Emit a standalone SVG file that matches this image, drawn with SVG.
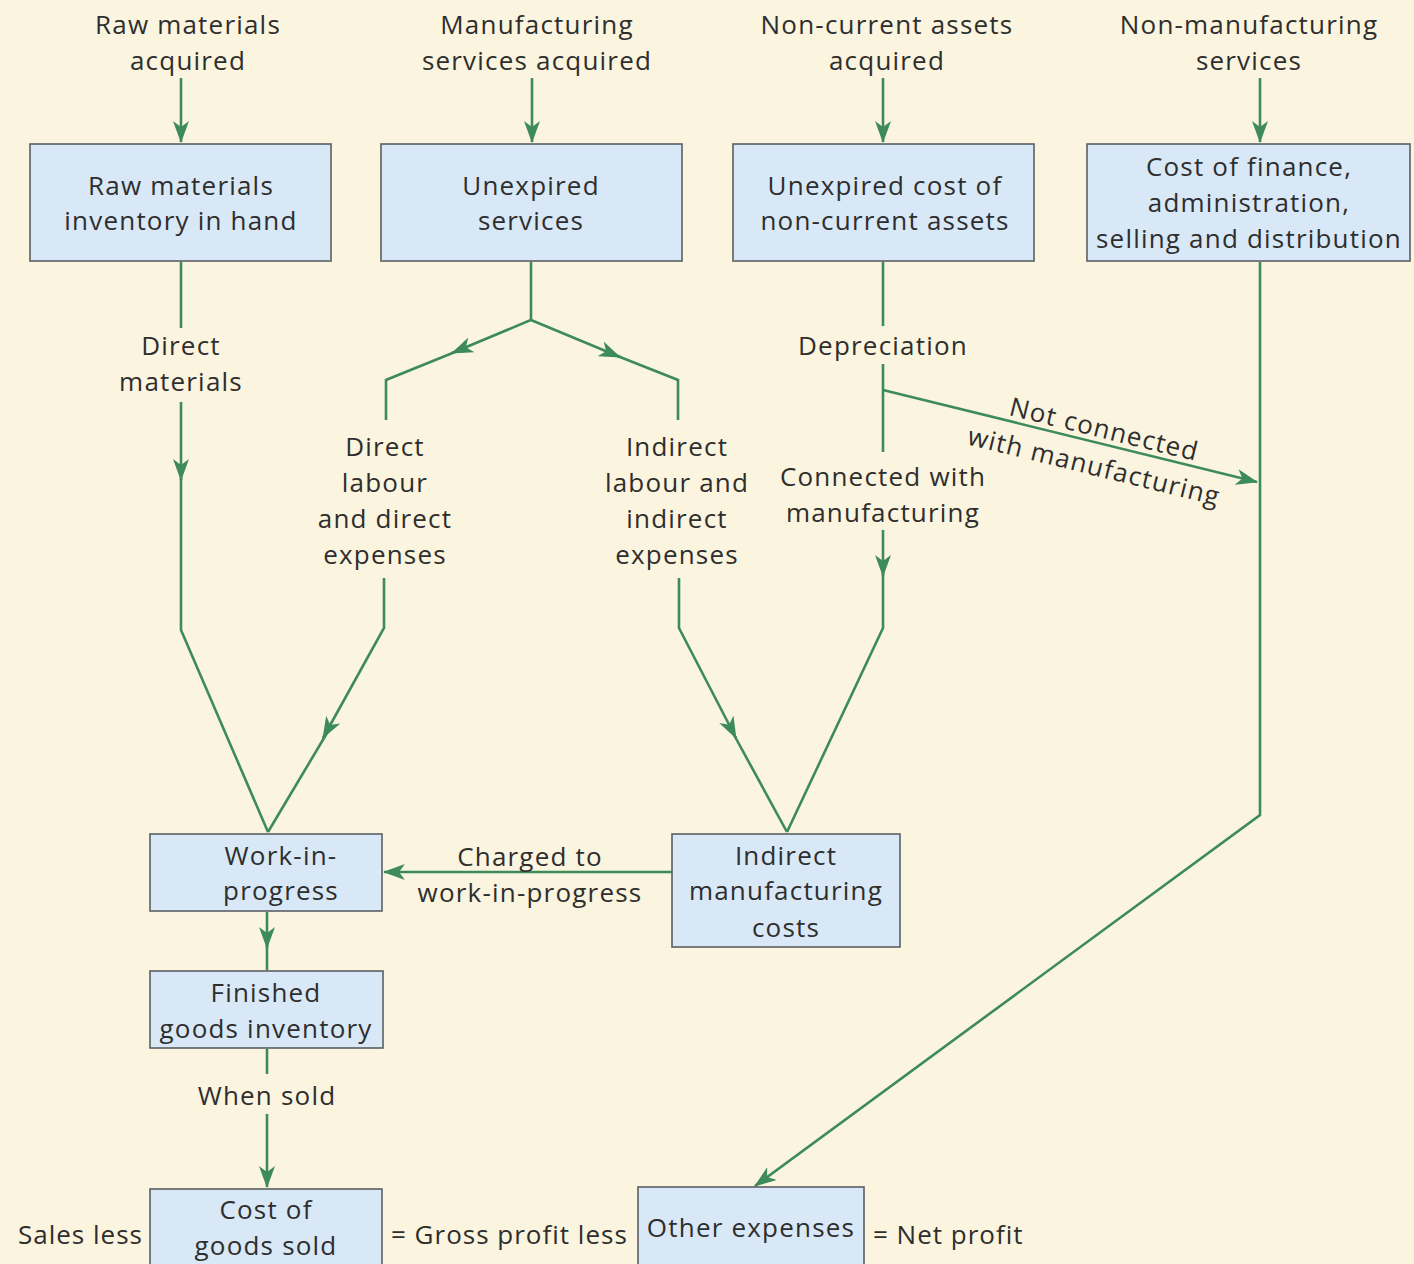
<svg xmlns="http://www.w3.org/2000/svg" width="1414" height="1264" viewBox="0 0 1414 1264">
<style>
.bg{fill:#fbf4de}
.box{fill:#d8e8f6;stroke:#5a5f63;stroke-width:1.6}
.t{font-family:"Open Sans","Noto Sans",sans-serif;font-size:26px;letter-spacing:1.2px;fill:#2e2e2e;text-anchor:middle}
.l{font-family:"Open Sans","Noto Sans",sans-serif;font-size:26px;letter-spacing:1px;fill:#2e2e2e}
.c{fill:none;stroke:#3d8b5b;stroke-width:2.6;stroke-linejoin:miter}
</style>
<defs>
<marker id="ah" viewBox="0 0 22 16" refX="21" refY="8" markerWidth="22" markerHeight="16" markerUnits="userSpaceOnUse" orient="auto">
<path d="M0,0 L22,8 L0,16 L6,8 z" fill="#3d8b5b"/>
</marker>
</defs>
<rect class="bg" x="0" y="0" width="1414" height="1264"/>

<g id="labels-top">
<text class="t" x="188" y="34">Raw materials</text>
<text class="t" x="188" y="70">acquired</text>
<text class="t" x="537" y="34">Manufacturing</text>
<text class="t" x="537" y="70">services acquired</text>
<text class="t" x="887" y="34">Non-current assets</text>
<text class="t" x="887" y="70">acquired</text>
<text class="t" x="1249" y="34">Non-manufacturing</text>
<text class="t" x="1249" y="70">services</text>
</g>

<g id="connectors">
<path class="c" d="M181,78 V142" marker-end="url(#ah)"/>
<path class="c" d="M532,78 V142" marker-end="url(#ah)"/>
<path class="c" d="M883,78 V142" marker-end="url(#ah)"/>
<path class="c" d="M1260,78 V142" marker-end="url(#ah)"/>

<path class="c" d="M181,262 V328"/>
<path class="c" d="M181,402 V480" marker-end="url(#ah)"/>
<path class="c" d="M181,478 V630 L268,832"/>

<path class="c" d="M531,262 V320 L452,353" marker-end="url(#ah)"/>
<path class="c" d="M455,352 L386,380 V420"/>
<path class="c" d="M531,320 L620,357" marker-end="url(#ah)"/>
<path class="c" d="M615,355 L678,380 V420"/>

<path class="c" d="M384,578 V628 L323,738" marker-end="url(#ah)"/>
<path class="c" d="M327,733 L268,832"/>
<path class="c" d="M679,578 V628 L736,738" marker-end="url(#ah)"/>
<path class="c" d="M733,733 L787,832"/>

<path class="c" d="M883,262 V326"/>
<path class="c" d="M883,364 V452"/>
<path class="c" d="M883,390 L1257,482" marker-end="url(#ah)"/>
<path class="c" d="M883,530 V576" marker-end="url(#ah)"/>
<path class="c" d="M883,572 V628 L787,832"/>

<path class="c" d="M1260,262 V815 L755,1186" marker-end="url(#ah)"/>

<path class="c" d="M672,872 H384" marker-end="url(#ah)"/>
<path class="c" d="M267,912 V948" marker-end="url(#ah)"/>
<path class="c" d="M267,944 V970"/>
<path class="c" d="M267,1049 V1074"/>
<path class="c" d="M267,1114 V1187" marker-end="url(#ah)"/>
</g>

<g id="connector-labels">
<text class="t" x="181" y="355">Direct</text>
<text class="t" x="181" y="391">materials</text>
<text class="t" x="385" y="456">Direct</text>
<text class="t" x="385" y="492">labour</text>
<text class="t" x="385" y="528">and direct</text>
<text class="t" x="385" y="564">expenses</text>
<text class="t" x="677" y="456">Indirect</text>
<text class="t" x="677" y="492">labour and</text>
<text class="t" x="677" y="528">indirect</text>
<text class="t" x="677" y="564">expenses</text>
<text class="t" x="883" y="355">Depreciation</text>
<text class="t" x="883" y="486">Connected with</text>
<text class="t" x="883" y="522">manufacturing</text>
<text class="t" transform="translate(1102,438) rotate(13.8)">Not connected</text>
<text class="t" transform="translate(1092,475) rotate(13.8)">with manufacturing</text>
<text class="t" x="530" y="866">Charged to</text>
<text class="t" x="530" y="902">work-in-progress</text>
<text class="t" x="267" y="1105">When sold</text>
<text class="l" x="18" y="1244">Sales less</text>
<text class="l" x="391" y="1244">= Gross profit less</text>
<text class="l" x="873" y="1244">= Net profit</text>
</g>

<g id="n-raw">
<rect class="box" x="30" y="144" width="301" height="117"/>
<text class="t" x="181" y="195">Raw materials</text>
<text class="t" x="181" y="230">inventory in hand</text>
</g>
<g id="n-services">
<rect class="box" x="381" y="144" width="301" height="117"/>
<text class="t" x="531" y="195">Unexpired</text>
<text class="t" x="531" y="230">services</text>
</g>
<g id="n-ncassets">
<rect class="box" x="733" y="144" width="301" height="117"/>
<text class="t" x="885" y="195">Unexpired cost of</text>
<text class="t" x="885" y="230">non-current assets</text>
</g>
<g id="n-finance">
<rect class="box" x="1087" y="144" width="323" height="117"/>
<text class="t" x="1249" y="176">Cost of finance,</text>
<text class="t" x="1249" y="212">administration,</text>
<text class="t" x="1249" y="248">selling and distribution</text>
</g>
<g id="n-wip">
<rect class="box" x="150" y="834" width="232" height="77"/>
<text class="t" x="281" y="865">Work-in-</text>
<text class="t" x="281" y="900">progress</text>
</g>
<g id="n-imc">
<rect class="box" x="672" y="834" width="228" height="113"/>
<text class="t" x="786" y="865">Indirect</text>
<text class="t" x="786" y="900">manufacturing</text>
<text class="t" x="786" y="937">costs</text>
</g>
<g id="n-fg">
<rect class="box" x="150" y="971" width="233" height="77"/>
<text class="t" x="266" y="1002">Finished</text>
<text class="t" x="266" y="1038">goods inventory</text>
</g>
<g id="n-cogs">
<rect class="box" x="150" y="1189" width="232" height="80"/>
<text class="t" x="266" y="1219">Cost of</text>
<text class="t" x="266" y="1255">goods sold</text>
</g>
<g id="n-other">
<rect class="box" x="638" y="1187" width="226" height="80"/>
<text class="t" x="751" y="1237">Other expenses</text>
</g>
</svg>
